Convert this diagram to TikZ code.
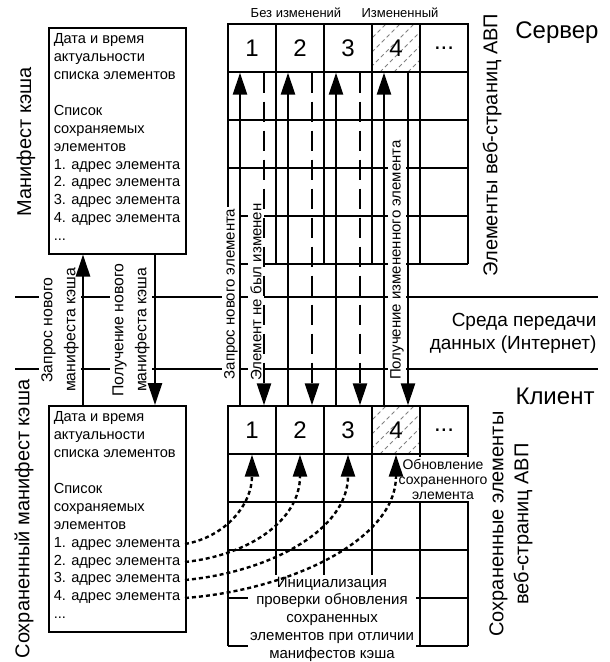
\documentclass[tikz,border=0pt]{standalone}
\usepackage{fontspec}
\setmainfont{Liberation Sans}
\usetikzlibrary{arrows.meta}
\begin{document}
\begin{tikzpicture}[x=1pt,y=-1pt,
  gridline/.style={line width=1.4pt},
  numcell/.style={draw,line width=1.4pt,minimum width=48pt,minimum height=48pt,inner sep=0pt,font=\fontsize{24}{24}\selectfont},
  mbox/.style={draw,line width=1.5pt,anchor=north west,inner xsep=5pt,inner ysep=6pt,font=\fontsize{14.6}{17.9}\selectfont},
  bigtxt/.style={font=\fontsize{20}{25}\selectfont,align=center},
  vlbl/.style={fill=white,inner sep=2pt,rotate=90,font=\fontsize{15}{23}\selectfont,align=center},
  mlbl/.style={vlbl,font=\fontsize{15.8}{23}\selectfont},
  upar/.style={line width=2.6pt,-{Triangle[length=22pt,width=14pt]}},
  dnar/.style={line width=2.6pt,dash pattern=on 20pt off 9pt,-{Triangle[length=22pt,width=14pt]}},
  dotar/.style={line width=2.4pt,dash pattern=on 4pt off 3pt,-{Triangle[length=22pt,width=14pt]}},
  hline/.style={line width=2pt},
  hatch/.style={gray,line width=0.8pt,dash pattern=on 4pt off 3pt},
  smalltxt/.style={font=\fontsize{13}{15}\selectfont},
]
\useasboundingbox (0,0) rectangle (610,662);

% ---------- top grid ----------
\foreach \y in {72,120,...,264} \draw[gridline] (228,\y) -- (468,\y);
\foreach \x in {228,276,...,468} \draw[gridline] (\x,24) -- (\x,264);
\begin{scope}
  \clip (372,24) rectangle (420,72);
  \foreach \i in {-48,-34,...,48} \draw[hatch] (372+\i,72) -- (420+\i,24);
\end{scope}
\node[numcell] (s1) at (252,48) {1};
\node[numcell] (s2) at (300,48) {2};
\node[numcell] (s3) at (348,48) {3};
\node[numcell] (s4) at (396,48) {4};
\node[numcell] (s5) at (444,48) {...};

% ---------- bottom grid ----------
\foreach \y in {454,502,...,646} \draw[gridline] (228,\y) -- (468,\y);
\foreach \x in {228,276,...,468} \draw[gridline] (\x,406) -- (\x,646);
\begin{scope}
  \clip (372,406) rectangle (420,454);
  \foreach \i in {-48,-34,...,48} \draw[hatch] (372+\i,454) -- (420+\i,406);
\end{scope}
\node[numcell] (c1) at (252,430) {1};
\node[numcell] (c2) at (300,430) {2};
\node[numcell] (c3) at (348,430) {3};
\node[numcell] (c4) at (396,430) {4};
\node[numcell] (c5) at (444,430) {...};

% ---------- network lines ----------
\coordinate (h1l) at (15,297);
\coordinate (h1r) at (598,297);
\coordinate (h2l) at (15,369);
\coordinate (h2r) at (598,369);
\draw[hline] (h1l) -- (h1r);
\draw[hline] (h2l) -- (h2r);

% ---------- manifest boxes ----------
\node[mbox] (mtop) at (48,27) {\parbox[t][214pt][t]{127pt}{Дата и время\\актуальности\\списка элементов\\\mbox{}\\Список\\сохраняемых\\элементов\\1. адрес элемента\\2. адрес элемента\\3. адрес элемента\\4. адрес элемента\\...}};
\node[mbox] (mbot) at (48,405) {\parbox[t][214pt][t]{127pt}{Дата и время\\актуальности\\списка элементов\\\mbox{}\\Список\\сохраняемых\\элементов\\1. адрес элемента\\2. адрес элемента\\3. адрес элемента\\4. адрес элемента\\...}};

% ---------- labels ----------
\node[smalltxt] (lbez) at (296,13) {Без изменений};
\node[smalltxt] (lizm) at (400,13) {Измененный};
\node[font=\fontsize{24}{24}\selectfont] (lserv) at (557,33) {Сервер};
\node[font=\fontsize{24}{24}\selectfont] (lkli) at (555,396) {Клиент};
\node[bigtxt,rotate=90] (lelem) at (492,145) {Элементы веб-страниц АВП};
\node[bigtxt,rotate=90] (lsohr) at (511,524) {Сохраненные элементы\\веб-страниц АВП};
\node[font=\fontsize{19}{23}\selectfont,align=right,anchor=east] (lsreda) at (600,333) {Среда передачи\\данных (Интернет)};
\node[bigtxt,rotate=90] (lman) at (26,142) {Манифест кэша};
\node[bigtxt,rotate=90] (lsman) at (24,519) {Сохраненный манифест кэша};

\node[mlbl] (lzm) at (60,330) {Запрос нового\\манифеста кэша};
\node[mlbl] (lpm) at (131,330) {Получение нового\\манифеста кэша};
\node[vlbl] (lze) at (231,294) {Запрос нового элемента};
\node[vlbl] (lne) at (256,292) {Элемент не был изменен};
\node[vlbl] (lpe) at (397,260) {Получение измененного элемента};
\node[fill=white,inner sep=2pt,align=center,font=\fontsize{14}{15}\selectfont] (lobn) at (443,479) {Обновление\\сохраненного\\элемента};
\node[fill=white,inner sep=2pt,align=center,font=\fontsize{15}{17.8}\selectfont] (linit) at (332,619) {Инициализация\\проверки обновления\\сохраненных\\элементов при отличии\\манифестов кэша};

% ---------- left arrows ----------
\coordinate (xa) at (83,0);
\coordinate (xb) at (155,0);
\draw[upar] (mbot.north -| xa) -- (mtop.south -| xa);
\draw[upar] (mtop.south -| xb) -- (mbot.north -| xb);

% ---------- middle arrows ----------
\draw[upar] ([xshift=-12pt]c1.north) -- ([xshift=-12pt]s1.south);
\draw[upar] ([xshift=-12pt]c2.north) -- ([xshift=-12pt]s2.south);
\draw[upar] ([xshift=-12pt]c3.north) -- ([xshift=-12pt]s3.south);
\draw[upar] ([xshift=-12pt]c4.north) -- ([xshift=-12pt]s4.south);
\draw[dnar] ([xshift=12pt]s1.south) -- ([xshift=12pt]c1.north);
\draw[dnar] ([xshift=12pt]s2.south) -- ([xshift=12pt]c2.north);
\draw[dnar] ([xshift=12pt]s3.south) -- ([xshift=12pt]c3.north);
\draw[upar] ([xshift=12pt]s4.south) -- ([xshift=12pt]c4.north);

% ---------- dotted curves ----------
\coordinate (a1) at (185,544);
\coordinate (a2) at (185,562);
\coordinate (a3) at (185,580);
\coordinate (a4) at (185,598);
\draw[dotar] (a1) .. controls (225,537) and (252,505) .. (c1.south);
\draw[dotar] (a2) .. controls (250,555) and (300,520) .. (c2.south);
\draw[dotar] (a3) .. controls (270,572) and (348,530) .. (c3.south);
\draw[dotar] (a4) .. controls (290,590) and (396,540) .. (c4.south);
\end{tikzpicture}
\end{document}
